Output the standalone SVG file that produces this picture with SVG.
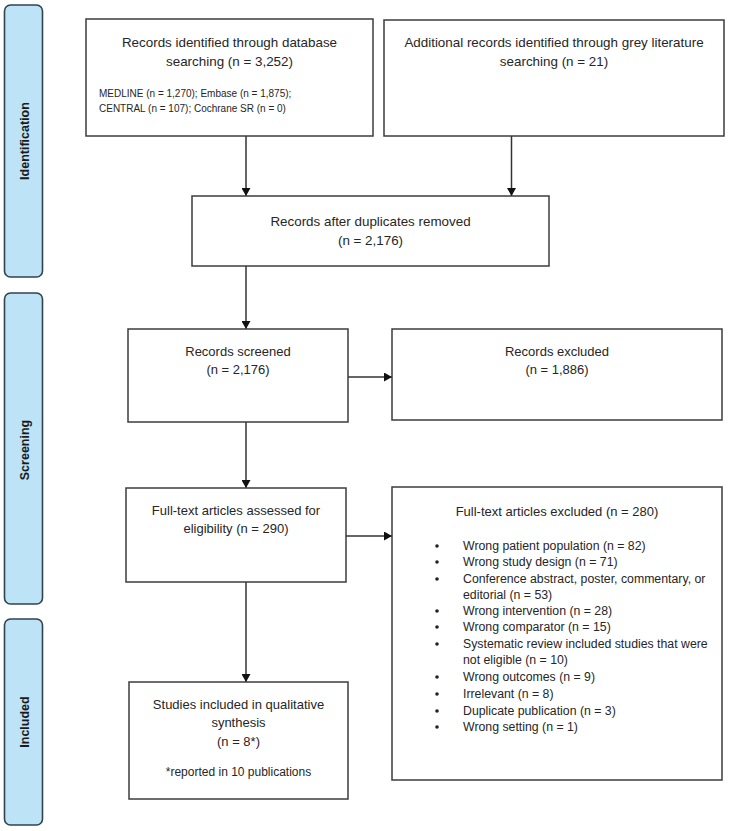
<svg xmlns="http://www.w3.org/2000/svg" width="730" height="831" viewBox="0 0 730 831">
<style>
.box{fill:#fff;stroke:#3c3c3c;stroke-width:1.5}
.bar{fill:#bde3f6;stroke:#34414f;stroke-width:1.6}
.t{font-family:"Liberation Sans",Arial,sans-serif;fill:#262626;text-anchor:middle}
.m{font-size:13px}
.big{font-size:13.4px}
.s{font-size:10px;text-anchor:start}
.l{font-size:12.3px;text-anchor:start}
.lab{font-family:"Liberation Sans",Arial,sans-serif;font-weight:bold;font-size:12.5px;fill:#1a1a1a;text-anchor:middle}
.c{stroke:#333;stroke-width:1.5;fill:none;marker-end:url(#ah)}
</style>
<defs>
<marker id="ah" markerWidth="8" markerHeight="9" refX="8" refY="4.5" orient="auto" markerUnits="userSpaceOnUse">
<path d="M0,0 L8,4.5 L0,9 Z" fill="#111"/>
</marker>
</defs>
<rect width="730" height="831" fill="#fff"/>
<g id="bar-identification">
<rect class="bar" x="4.5" y="5" width="38" height="272" rx="6"/>
<text class="lab" transform="translate(29,141) rotate(-90)">Identification</text>
</g>
<g id="bar-screening">
<rect class="bar" x="4.5" y="293" width="38" height="311" rx="6"/>
<text class="lab" transform="translate(29,450) rotate(-90)">Screening</text>
</g>
<g id="bar-included">
<rect class="bar" x="4.5" y="619" width="38" height="206" rx="6"/>
<text class="lab" transform="translate(29,722) rotate(-90)">Included</text>
</g>
<g id="connectors">
<line class="c" x1="246" y1="136" x2="246" y2="196"/>
<line class="c" x1="511.5" y1="136" x2="511.5" y2="196"/>
<line class="c" x1="246" y1="266" x2="246" y2="329"/>
<line class="c" x1="348" y1="377" x2="392" y2="377"/>
<line class="c" x1="246" y1="422" x2="246" y2="488"/>
<line class="c" x1="346" y1="536" x2="392" y2="536"/>
<line class="c" x1="246" y1="582" x2="246" y2="682"/>
</g>
<g id="node-db">
<rect class="box" x="86" y="19" width="287" height="117"/>
<text class="t big" x="229.5" y="47">Records identified through database</text>
<text class="t big" x="229.5" y="66">searching (n = 3,252)</text>
<text class="t s" x="99" y="96.5">MEDLINE (n = 1,270); Embase (n = 1,875);</text>
<text class="t s" x="99" y="111.5">CENTRAL (n = 107); Cochrane SR (n = 0)</text>
</g>
<g id="node-grey">
<rect class="box" x="384" y="20" width="340" height="116"/>
<text class="t big" x="554" y="47">Additional records identified through grey literature</text>
<text class="t big" x="554" y="66">searching (n = 21)</text>
</g>
<g id="node-dup">
<rect class="box" x="192" y="196" width="357" height="70"/>
<text class="t big" x="370.5" y="226">Records after duplicates removed</text>
<text class="t big" x="370.5" y="245">(n = 2,176)</text>
</g>
<g id="node-screened">
<rect class="box" x="128" y="329" width="220" height="93"/>
<text class="t m" x="238" y="355.5">Records screened</text>
<text class="t m" x="238" y="373.5">(n = 2,176)</text>
</g>
<g id="node-excluded">
<rect class="box" x="392" y="329" width="330" height="91"/>
<text class="t m" x="557" y="355.5">Records excluded</text>
<text class="t m" x="557" y="373.5">(n = 1,886)</text>
</g>
<g id="node-fulltext">
<rect class="box" x="126" y="488" width="220" height="94"/>
<text class="t m" x="236" y="514.5">Full-text articles assessed for</text>
<text class="t m" x="236" y="532.5">eligibility (n = 290)</text>
</g>
<g id="node-ftexcluded">
<rect class="box" x="392" y="487" width="330" height="293"/>
<text class="t m" x="557" y="515.5">Full-text articles excluded (n = 280)</text>
<g fill="#222">
<circle cx="437" cy="546" r="1.8"/>
<circle cx="437" cy="562" r="1.8"/>
<circle cx="437" cy="579" r="1.8"/>
<circle cx="437" cy="611" r="1.8"/>
<circle cx="437" cy="627" r="1.8"/>
<circle cx="437" cy="644" r="1.8"/>
<circle cx="437" cy="677" r="1.8"/>
<circle cx="437" cy="694" r="1.8"/>
<circle cx="437" cy="711" r="1.8"/>
<circle cx="437" cy="727" r="1.8"/>
</g>
<text class="t l" x="463" y="550.3">Wrong patient population (n = 82)</text>
<text class="t l" x="463" y="566.3">Wrong study design (n = 71)</text>
<text class="t l" x="463" y="583.3">Conference abstract, poster, commentary, or</text>
<text class="t l" x="463" y="599.3">editorial (n = 53)</text>
<text class="t l" x="463" y="615.3">Wrong intervention (n = 28)</text>
<text class="t l" x="463" y="631.3">Wrong comparator (n = 15)</text>
<text class="t l" x="463" y="648.3">Systematic review included studies that were</text>
<text class="t l" x="463" y="664.3">not eligible (n = 10)</text>
<text class="t l" x="463" y="681.3">Wrong outcomes (n = 9)</text>
<text class="t l" x="463" y="698.3">Irrelevant (n = 8)</text>
<text class="t l" x="463" y="715.3">Duplicate publication (n = 3)</text>
<text class="t l" x="463" y="731.3">Wrong setting (n = 1)</text>
</g>
<g id="node-included">
<rect class="box" x="129" y="682" width="219" height="117"/>
<text class="t m" x="238.5" y="708.5">Studies included in qualitative</text>
<text class="t m" x="238.5" y="727">synthesis</text>
<text class="t m" x="238.5" y="746">(n = 8*)</text>
<text class="t" x="238.5" y="776" font-size="12px">*reported in 10 publications</text>
</g>
</svg>
